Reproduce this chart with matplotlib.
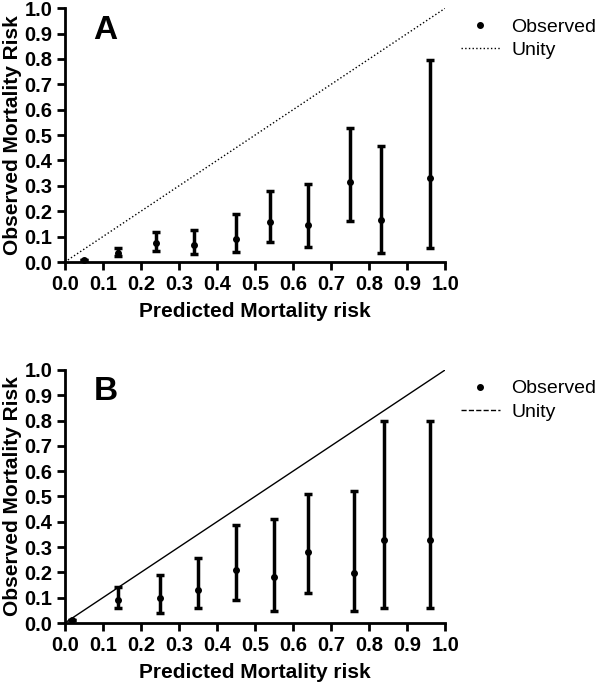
import numpy as np
import matplotlib.pyplot as plt

plt.rcParams['font.family'] = ['Liberation Sans', 'DejaVu Sans']

# panel A
xa = [0.05, 0.14, 0.24, 0.34, 0.45, 0.54, 0.64, 0.75, 0.83, 0.96]
ya = [0.009, 0.037, 0.075, 0.066, 0.091, 0.157, 0.146, 0.316, 0.166, 0.332]
lo_a = [0.009, 0.024, 0.043, 0.033, 0.038, 0.078, 0.058, 0.163, 0.034, 0.055]
hi_a = [0.009, 0.057, 0.118, 0.125, 0.188, 0.280, 0.307, 0.529, 0.458, 0.796]

# panel B
xb = [0.02, 0.14, 0.25, 0.35, 0.45, 0.55, 0.64, 0.76, 0.84, 0.96]
yb = [0.013, 0.091, 0.099, 0.130, 0.209, 0.180, 0.280, 0.199, 0.329, 0.329]
lo_b = [0.013, 0.058, 0.038, 0.060, 0.089, 0.049, 0.120, 0.049, 0.060, 0.060]
hi_b = [0.013, 0.141, 0.190, 0.258, 0.388, 0.410, 0.509, 0.520, 0.800, 0.800]

ticks = np.round(np.arange(0, 1.01, 0.1), 1)

fig = plt.figure(figsize=(6.0, 6.85), dpi=100)
ax1 = fig.add_axes([0.108, 0.6175, 0.634, 0.3705])
ax2 = fig.add_axes([0.108, 0.0905, 0.634, 0.3695])


def panel(ax, x, y, lo, hi, letter, unity_style, legend_style):
    x = np.array(x)
    y = np.array(y)
    err = [y - np.array(lo), np.array(hi) - y]
    ax.errorbar(x, y, yerr=err, fmt='o', color='black', ms=4, elinewidth=2.5,
                capsize=3.2, capthick=2.5, clip_on=False, zorder=3)
    ax.plot([0, 1], [0, 1], color='black', lw=1, linestyle=unity_style, zorder=2)
    ax.set_xlim(0, 1)
    ax.set_ylim(0, 1)
    ax.set_xticks(ticks)
    ax.set_yticks(ticks)
    ax.set_xticklabels(['%.1f' % t for t in ticks], fontsize=14.5, fontweight='bold')
    ax.set_yticklabels(['%.1f' % t for t in ticks], fontsize=14.5, fontweight='bold')
    for s in ['top', 'right']:
        ax.spines[s].set_visible(False)
    for s in ['left', 'bottom']:
        ax.spines[s].set_linewidth(2)
    ax.tick_params(width=2, length=6, pad=3)
    ax.set_xlabel('Predicted Mortality risk', fontsize=15, fontweight='bold', labelpad=6)
    ax.set_ylabel('Observed Mortality Risk', fontsize=15, fontweight='bold', labelpad=2)
    ax.text(0.075, 0.975, letter, transform=ax.transAxes, fontsize=24, fontweight='bold',
            va='top', ha='left')
    h1, = ax.plot([], [], 'o', color='black', ms=4)
    h2, = ax.plot([], [], color='black', lw=1, linestyle=legend_style)
    ax.legend([h1, h2], ['Observed', 'Unity'], loc='upper left', bbox_to_anchor=(0.995, 1.03),
              frameon=False, fontsize=14, handlelength=2.0, handletextpad=0.6,
              labelspacing=0.3)


panel(ax1, xa, ya, lo_a, hi_a, 'A', ':', ':')
panel(ax2, xb, yb, lo_b, hi_b, 'B', '-', '--')

fig.savefig('out.png', dpi=100)
